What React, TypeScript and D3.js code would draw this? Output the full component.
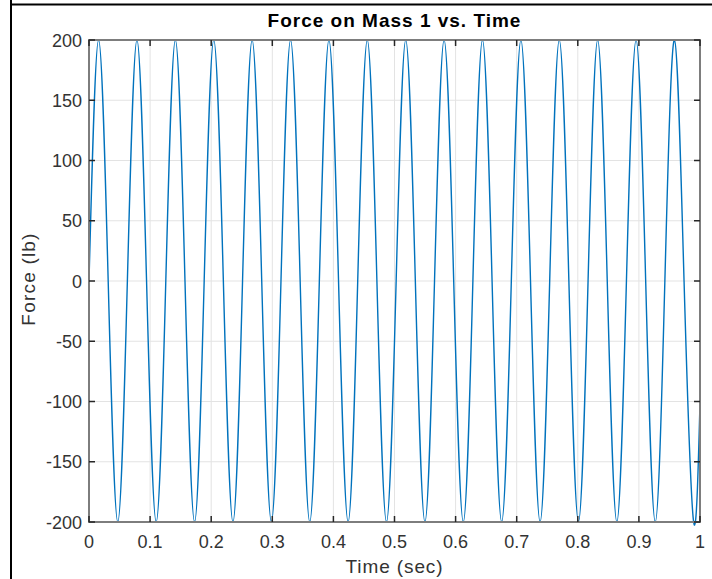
import React from "react";
import * as d3 from "d3";

const timeSec: number[] = [
  0, 0.0157, 0.0314, 0.0471, 0.0628, 0.0785, 0.0942, 0.11, 0.1257, 0.1414,
  0.1571, 0.1728, 0.1885, 0.2042, 0.2199, 0.2356, 0.2513, 0.267, 0.2827, 0.2985,
  0.3142, 0.3299, 0.3456, 0.3613, 0.377, 0.3927, 0.4084, 0.4241, 0.4398, 0.4555,
  0.4712, 0.4869, 0.5027, 0.5184, 0.5341, 0.5498, 0.5655, 0.5812, 0.5969, 0.6126,
  0.6283, 0.644, 0.6597, 0.6754, 0.6912, 0.7069, 0.7226, 0.7383, 0.754, 0.7697,
  0.7854, 0.8011, 0.8168, 0.8325, 0.8482, 0.8639, 0.8796, 0.8954, 0.9111, 0.9268,
  0.9425, 0.9582, 0.9739, 0.9896, 1.0,
];

const forceLb: number[] = [
  0, 200, 0, -200, 0, 200, 0, -200, 0, 200,
  0, -200, 0, 200, 0, -200, 0, 200, 0, -200,
  0, 200, 0, -200, 0, 200, 0, -200, 0, 200,
  0, -200, 0, 200, 0, -200, 0, 200, 0, -200,
  0, 200, 0, -200, 0, 200, 0, -200, 0, 200,
  0, -200, 0, 200, 0, -200, 0, 200, 0, -200,
  0, 200, 0, -200, -101,
];

const xTicks: number[] = [0, 0.1, 0.2, 0.3, 0.4, 0.5, 0.6, 0.7, 0.8, 0.9, 1];
const yTicks: number[] = [-200, -150, -100, -50, 0, 50, 100, 150, 200];

const titleText = "Force on Mass 1 vs. Time";
const xLabel = "Time (sec)";
const yLabel = "Force (lb)";

export default function App() {
  const W = 712;
  const H = 579;
  const left = 89;
  const right = 700;
  const top = 40;
  const bottom = 522;
  const x = d3.scaleLinear().domain([0, 1]).range([left, right]);
  const y = d3.scaleLinear().domain([-200, 200]).range([bottom, top]);
  const pts = timeSec.map((t, i) => [t, forceLb[i]] as [number, number]);
  const line = d3
    .line<[number, number]>()
    .x((d) => x(d[0]))
    .y((d) => y(d[1]))
    .curve(d3.curveNatural);
  const font = "'Liberation Sans', Arial, Helvetica, sans-serif";
  const tickLen = 6;
  const txt = "#333333";
  const fmt = (v: number) => String(v);
  return (
    <svg
      width={W}
      height={H}
      style={{ position: "absolute", left: 0, top: 0, background: "#fff" }}
    >
      {/* frame */}
      <line x1={11} y1={0} x2={11} y2={H} stroke="#000" strokeWidth={2} />
      <line x1={11} y1={4.5} x2={W} y2={4.5} stroke="#000" strokeWidth={2} />
      {/* grid */}
      {xTicks.map((t) => (
        <line key={"gx" + t} x1={x(t)} x2={x(t)} y1={top} y2={bottom} stroke="#e3e3e3" strokeWidth={1} />
      ))}
      {yTicks.map((t) => (
        <line key={"gy" + t} x1={left} x2={right} y1={y(t)} y2={y(t)} stroke="#e3e3e3" strokeWidth={1} />
      ))}
      {/* data */}
      <path d={line(pts) || ""} fill="none" stroke="#0072BD" strokeWidth={1.4} />
      {/* box */}
      <rect x={left} y={top} width={right - left} height={bottom - top} fill="none" stroke="#7d7d7d" strokeWidth={2} />
      {/* ticks */}
      {xTicks.map((t) => (
        <g key={"tx" + t}>
          <line x1={x(t)} x2={x(t)} y1={bottom} y2={bottom - tickLen} stroke="#262626" strokeWidth={1.5} />
          <line x1={x(t)} x2={x(t)} y1={top} y2={top + tickLen} stroke="#262626" strokeWidth={1.5} />
          <text x={x(t)} y={548} textAnchor="middle" fontFamily={font} fontSize={18} fill={txt}>
            {fmt(t)}
          </text>
        </g>
      ))}
      {yTicks.map((t) => (
        <g key={"ty" + t}>
          <line x1={left} x2={left + tickLen} y1={y(t)} y2={y(t)} stroke="#262626" strokeWidth={1.5} />
          <line x1={right} x2={right - tickLen} y1={y(t)} y2={y(t)} stroke="#262626" strokeWidth={1.5} />
          <text x={82} y={y(t) + 6.5} textAnchor="end" fontFamily={font} fontSize={18} fill={txt}>
            {fmt(t)}
          </text>
        </g>
      ))}
      {/* labels */}
      <text x={(left + right) / 2} y={27} textAnchor="middle" fontFamily={font} fontSize={19} fontWeight="bold" letterSpacing={1} fill="#000">
        {titleText}
      </text>
      <text x={(left + right) / 2} y={573} textAnchor="middle" fontFamily={font} fontSize={19} letterSpacing={0.9} fill={txt}>
        {xLabel}
      </text>
      <text
        transform={`translate(35,279) rotate(-90)`}
        textAnchor="middle"
        fontFamily={font}
        fontSize={19}
        letterSpacing={1.2}
        fill={txt}
      >
        {yLabel}
      </text>
    </svg>
  );
}
